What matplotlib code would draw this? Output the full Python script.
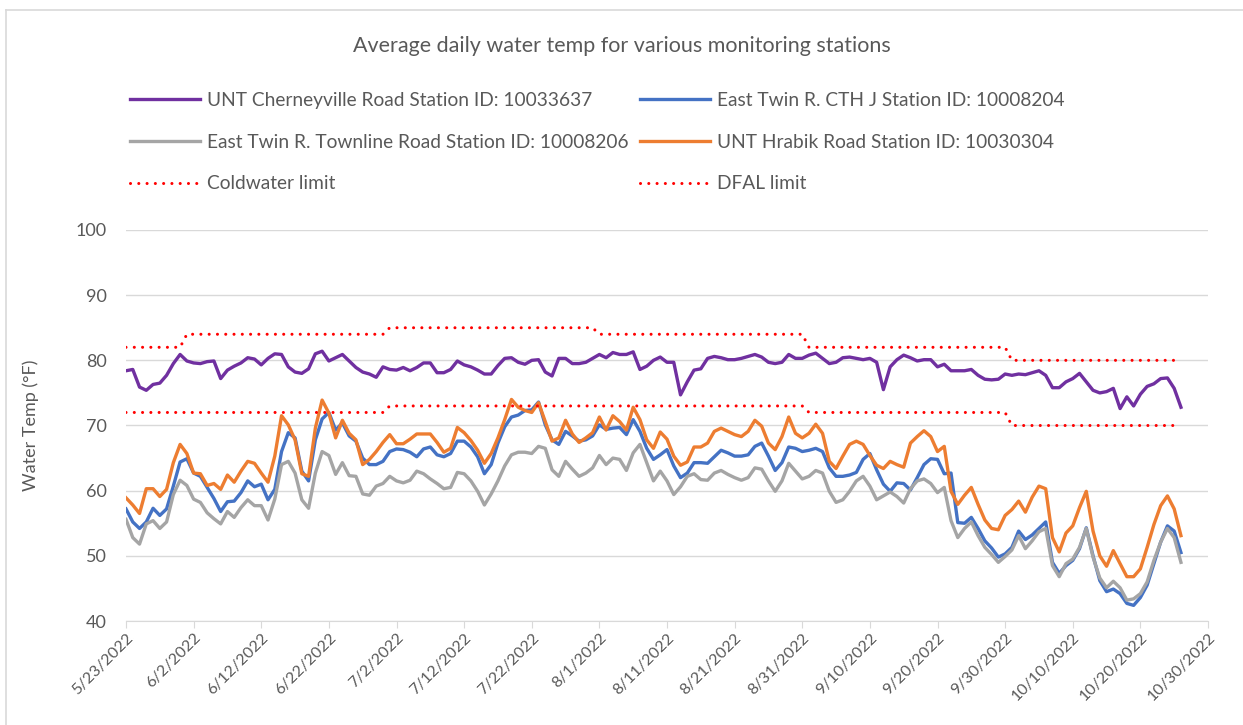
import numpy as np
import pandas as pd
import matplotlib
matplotlib.use('Agg')
import matplotlib.pyplot as plt
import matplotlib.dates as mdates
from matplotlib.lines import Line2D

plt.rcParams['font.family'] = ['Lato', 'DejaVu Sans']

START = '2022-05-23'
N_DAYS = 157

cherneyville = [
    78.4, 78.6, 75.9, 75.4, 76.3, 76.5, 77.7, 79.5, 80.9, 79.9,
    79.6, 79.5, 79.8, 79.9, 77.2, 78.5, 79.1, 79.6, 80.4, 80.2,
    79.3, 80.3, 81.0, 80.9, 79.0, 78.2, 78.0, 78.7, 81.0, 81.4,
    79.9, 80.4, 80.9, 79.9, 78.9, 78.2, 77.9, 77.4, 79.0, 78.6,
    78.5, 78.9, 78.4, 78.9, 79.6, 79.6, 78.1, 78.1, 78.6, 79.9,
    79.3, 79.0, 78.5, 77.9, 77.9, 79.2, 80.3, 80.4, 79.7, 79.4,
    80.0, 80.1, 78.2, 77.6, 80.3, 80.3, 79.5, 79.5, 79.7, 80.3,
    80.9, 80.4, 81.2, 80.9, 80.9, 81.3, 78.6, 79.1, 80.0, 80.5,
    79.7, 79.7, 74.7, 76.7, 78.5, 78.7, 80.3, 80.6, 80.4, 80.1,
    80.1, 80.3, 80.6, 80.9, 80.5, 79.7, 79.5, 79.7, 80.9, 80.3,
    80.3, 80.8, 81.1, 80.3, 79.5, 79.7, 80.4, 80.5, 80.3, 80.1,
    80.3, 79.7, 75.5, 79.0, 80.1, 80.8, 80.4, 79.9, 80.1, 80.1,
    79.0, 79.4, 78.4, 78.4, 78.4, 78.6, 77.7, 77.1, 77.0, 77.1,
    77.9, 77.7, 77.9, 77.8, 78.1, 78.4, 77.7, 75.8, 75.8, 76.7,
    77.2, 78.0, 76.7, 75.4, 75.0, 75.2, 75.7, 72.6, 74.4, 73.0,
    74.8, 76.0, 76.4, 77.2, 77.3, 75.7, 72.8,
]

cth_j = [
    57.2, 55.2, 54.2, 55.2, 57.3, 56.2, 57.2, 60.7, 64.4, 64.9,
    62.7, 62.2, 60.5, 58.8, 56.8, 58.3, 58.4, 59.7, 61.5, 60.6,
    61.0, 58.6, 60.2, 66.0, 68.9, 68.1, 63.0, 61.5, 67.8, 71.0,
    72.0, 69.3, 70.4, 68.4, 67.6, 65.0, 64.0, 64.0, 64.5, 66.0,
    66.4, 66.3, 65.9, 65.2, 66.4, 66.7, 65.5, 65.2, 65.7, 67.6,
    67.6, 66.7, 65.2, 62.6, 64.0, 67.3, 69.8, 71.3, 71.6, 72.3,
    72.4, 73.6, 70.1, 67.8, 67.1, 69.1, 68.4, 67.6, 67.8, 68.4,
    70.1, 69.4, 69.6, 69.7, 68.6, 70.9, 69.1, 66.5, 64.8, 65.5,
    66.3, 63.8, 62.0, 62.7, 64.3, 64.3, 64.2, 65.2, 66.2, 65.8,
    65.3, 65.3, 65.5, 66.8, 67.3, 65.3, 63.1, 64.3, 66.7, 66.5,
    66.0, 66.2, 66.5, 66.0, 63.5, 62.2, 62.2, 62.4, 62.8, 64.8,
    65.7, 63.2, 61.0, 59.9, 61.2, 61.1, 60.1, 62.0, 64.0, 64.9,
    64.8, 62.6, 62.7, 55.1, 55.0, 55.9, 54.2, 52.3, 51.2, 49.8,
    50.3, 51.3, 53.8, 52.5, 53.2, 54.2, 55.2, 49.0, 47.3, 48.5,
    49.3, 51.1, 54.3, 50.0, 46.2, 44.5, 44.9, 44.2, 42.7, 42.4,
    43.6, 45.5, 48.8, 52.1, 54.6, 53.8, 50.5,
]

townline = [
    55.6, 52.8, 51.8, 54.9, 55.4, 54.2, 55.2, 59.4, 61.6, 60.8,
    58.7, 58.2, 56.6, 55.7, 54.9, 56.8, 55.9, 57.4, 58.6, 57.7,
    57.7, 55.5, 58.7, 64.0, 64.5, 62.7, 58.6, 57.3, 62.7, 66.0,
    65.4, 62.5, 64.3, 62.3, 62.2, 59.5, 59.3, 60.7, 61.1, 62.2,
    61.5, 61.2, 61.6, 63.0, 62.6, 61.8, 61.1, 60.3, 60.5, 62.8,
    62.6, 61.5, 59.9, 57.8, 59.5, 61.5, 63.8, 65.5, 65.9, 65.9,
    65.7, 66.8, 66.5, 63.2, 62.2, 64.5, 63.3, 62.2, 62.7, 63.5,
    65.4, 64.0, 65.0, 64.8, 63.1, 65.8, 67.1, 64.3, 61.5, 63.0,
    61.5, 59.4, 60.6, 62.2, 62.6, 61.7, 61.6, 62.7, 63.1, 62.5,
    62.0, 61.6, 62.0, 63.5, 63.3, 61.5, 59.9, 61.5, 64.2, 63.0,
    61.8, 62.2, 63.1, 62.7, 59.9, 58.2, 58.6, 59.9, 61.5, 62.2,
    60.7, 58.6, 59.2, 59.8, 59.1, 58.1, 60.3, 61.5, 61.8, 61.1,
    59.7, 60.5, 55.4, 52.8, 54.2, 55.2, 53.1, 51.3, 50.2, 49.0,
    49.9, 50.9, 53.1, 51.1, 52.3, 53.7, 54.2, 48.5, 46.8, 48.8,
    49.5, 51.3, 54.2, 49.8, 46.6, 45.1, 46.1, 45.1, 43.2, 43.4,
    44.2, 46.0, 49.3, 52.1, 54.2, 52.8, 49.0,
]

hrabik = [
    58.9, 57.8, 56.5, 60.3, 60.3, 59.1, 60.2, 64.3, 67.1, 65.7,
    62.7, 62.6, 60.8, 61.1, 60.2, 62.4, 61.3, 63.0, 64.5, 64.2,
    62.7, 61.3, 65.3, 71.5, 70.1, 67.8, 62.6, 62.2, 69.6, 73.9,
    71.9, 68.1, 70.8, 68.8, 67.8, 64.0, 64.8, 66.0, 67.4, 68.6,
    67.2, 67.2, 67.9, 68.7, 68.7, 68.7, 67.4, 65.9, 66.5, 69.7,
    68.9, 67.7, 66.2, 64.2, 65.7, 68.1, 70.9, 74.0, 72.8, 72.3,
    72.0, 73.5, 70.6, 67.6, 68.1, 70.8, 68.7, 67.4, 68.1, 68.9,
    71.3, 69.3, 71.5, 70.6, 69.3, 72.8, 70.9, 67.8, 66.5, 69.0,
    67.9, 65.3, 63.9, 64.4, 66.7, 66.7, 67.3, 69.1, 69.6, 69.1,
    68.6, 68.3, 69.1, 70.8, 69.9, 67.3, 66.3, 68.3, 71.3, 68.8,
    68.1, 68.8, 70.2, 68.8, 64.5, 63.4, 65.3, 67.1, 67.6, 67.1,
    65.4, 63.9, 63.4, 64.5, 64.0, 63.6, 67.3, 68.3, 69.2, 68.3,
    66.0, 66.8, 59.9, 57.9, 59.3, 60.5, 57.9, 55.5, 54.2, 54.0,
    56.2, 57.1, 58.4, 56.7, 59.0, 60.7, 60.3, 52.8, 50.6, 53.5,
    54.6, 57.4, 59.9, 53.8, 50.0, 48.4, 50.8, 48.8, 46.8, 46.8,
    48.0, 51.3, 54.8, 57.7, 59.2, 57.2, 53.1,
]

# limits change on these dates (value holds until the next change)
limit_dates = ['2022-05-23', '2022-06-01', '2022-07-01', '2022-08-01', '2022-09-01', '2022-10-01']
coldwater_vals = [82, 84, 85, 84, 82, 80]
dfal_vals = [72, 72, 73, 73, 72, 70]

labels = ['UNT Cherneyville Road Station ID: 10033637',
          'East Twin R. CTH J Station ID: 10008204',
          'East Twin R. Townline Road Station ID: 10008206',
          'UNT Hrabik Road Station ID: 10030304',
          'Coldwater limit', 'DFAL limit']
colors = ['#7030A0', '#4472C4', '#A5A5A5', '#ED7D31', '#FF0000', '#FF0000']

dates = pd.date_range(START, periods=N_DAYS)
steps = pd.Series(range(len(limit_dates)), index=pd.to_datetime(limit_dates))
idx = steps.reindex(dates, method='ffill').values.astype(int)
coldwater = np.array(coldwater_vals)[idx]
dfal = np.array(dfal_vals)[idx]

fig = plt.figure(figsize=(12.43, 7.25), dpi=100)
ax = fig.add_axes([126 / 1243, 1 - 621 / 725, (1208 - 126) / 1243, (621 - 230) / 725])

series = [cherneyville, cth_j, townline, hrabik]
handles = []
for vals, lab, col in zip(series, labels[:4], colors[:4]):
    h, = ax.plot(dates, vals, color=col, lw=2.4, label=lab, solid_joinstyle='round')
    handles.append(h)
dot = (0, (0.01, 2.7))
for vals, lab in zip([coldwater, dfal], labels[4:]):
    h, = ax.plot(dates, vals, color='#FF0000', lw=2.2, ls=dot, dash_capstyle='round', label=lab)
    handles.append(h)

ax.set_ylim(40, 100)
ax.set_yticks(range(40, 101, 10))
ax.set_xlim(pd.Timestamp('2022-05-23'), pd.Timestamp('2022-10-30'))
ax.set_xticks(pd.date_range('2022-05-23', '2022-10-30', freq='10D'))
ax.xaxis.set_major_formatter(mdates.DateFormatter('%-m/%-d/%Y'))
ax.grid(axis='y', color='#D9D9D9', lw=1)
ax.set_axisbelow(True)
for s in ['top', 'right', 'left']:
    ax.spines[s].set_visible(False)
ax.spines['bottom'].set_color('#D9D9D9')
ax.tick_params(axis='y', length=0, pad=14, labelsize=13, labelcolor='#595959')
ax.tick_params(axis='x', length=5, color='#D9D9D9', labelsize=11.5, labelcolor='#595959', pad=2)
for t in ax.get_xticklabels():
    t.set_rotation(45)
    t.set_ha('right')
    t.set_rotation_mode('anchor')
ax.set_ylabel('Water Temp (°F)', fontsize=13, color='#595959', labelpad=26)

fig.text(0.5, 1 - 46 / 725, 'Average daily water temp for various monitoring stations',
         ha='center', va='center', fontsize=15.5, color='#595959')

leg_kw = dict(loc='upper left', frameon=False, fontsize=13.75, handlelength=3.65,
              handletextpad=0.37, labelspacing=1.29, borderpad=0, borderaxespad=0,
              labelcolor='#595959')
leg1 = fig.legend([handles[0], handles[2], handles[4]], [labels[0], labels[2], labels[4]],
                  bbox_to_anchor=(130 / 1243, 1 - 92 / 725), **leg_kw)
leg2 = fig.legend([handles[1], handles[3], handles[5]], [labels[1], labels[3], labels[5]],
                  bbox_to_anchor=(640 / 1243, 1 - 92 / 725), **leg_kw)

# chart area border (top and left edges visible)
fig.add_artist(Line2D([6 / 1243, 6 / 1243], [0, 1 - 9.5 / 725], color='#D9D9D9', lw=1.2,
                      transform=fig.transFigure))
fig.add_artist(Line2D([6 / 1243, 1], [1 - 9.5 / 725, 1 - 9.5 / 725], color='#D9D9D9', lw=1.2,
                      transform=fig.transFigure))

fig.savefig('out.png', dpi=100)
